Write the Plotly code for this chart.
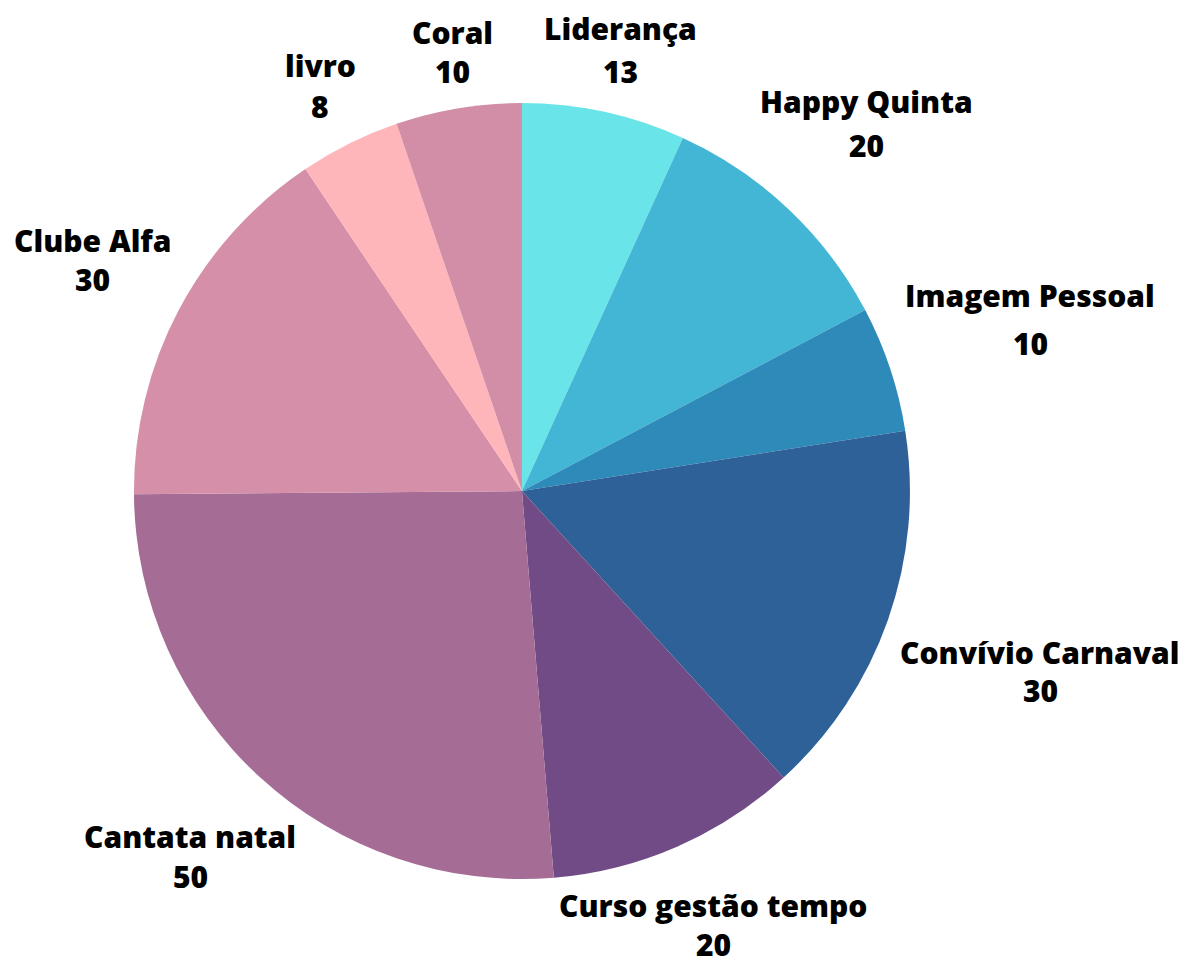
import plotly.graph_objects as go

# data
labels = ['Liderança', 'Happy Quinta', 'Imagem Pessoal', 'Convívio Carnaval',
          'Curso gestão tempo', 'Cantata natal', 'Clube Alfa', 'livro', 'Coral']
values = [13, 20, 10, 30, 20, 50, 30, 8, 10]
colors = ['#69E4E8', '#43B6D6', '#2E8AB9', '#2F6199', '#714B85',
          '#A56C95', '#D58FA9', '#FFB6BB', '#D18EA6']

size_plot = [1186, 967]
font_family = 'Open Sans'
size_label = 30

# label placement in pixels: (x centre, y of name line, y of value line)
label_pos = [
    (612, 20, 64),
    (858, 93, 138),
    (1022, 288, 335),
    (1032, 644, 682),
    (705, 897, 936),
    (182, 828, 868),
    (84, 232, 272),
    (312, 58, 98),
    (444, 24, 64),
]

fig = go.Figure(
    go.Pie(
        labels=labels,
        values=values,
        sort=False,
        direction='clockwise',
        rotation=0,
        marker=dict(colors=colors, line=dict(width=0)),
        textinfo='none',
        showlegend=False,
        hoverinfo='label+value',
        domain=dict(x=[0.1062, 0.7605], y=[0.0992, 0.9017]),
    )
)

font = dict(family=font_family, size=size_label, color='black', weight=800)
for lab, val, (px_x, py1, py2) in zip(labels, values, label_pos):
    fig.add_annotation(x=px_x / size_plot[0], y=1 - py1 / size_plot[1], xref='paper', yref='paper',
                       text=lab, showarrow=False, font=font, xanchor='center', yanchor='middle',
                       borderpad=0)
    fig.add_annotation(x=px_x / size_plot[0], y=1 - py2 / size_plot[1], xref='paper', yref='paper',
                       text=str(val), showarrow=False, font=font, xanchor='center', yanchor='middle',
                       borderpad=0)

fig.update_layout(
    width=size_plot[0],
    height=size_plot[1],
    margin=dict(l=0, r=0, t=0, b=0),
    paper_bgcolor='white',
    plot_bgcolor='white',
)

fig.write_html("out.html")
